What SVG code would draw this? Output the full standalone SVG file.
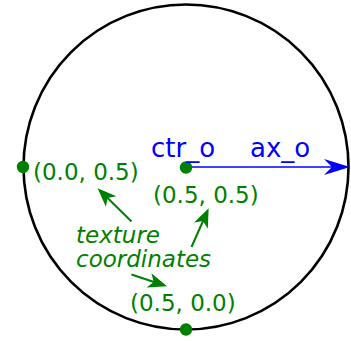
<svg xmlns="http://www.w3.org/2000/svg" width="351" height="341" viewBox="0 0 351 341">
<style>
.g{fill:#008000;font-family:"DejaVu Sans",sans-serif;font-size:23px}
.b{fill:#0000ff;font-family:"DejaVu Sans",sans-serif;font-size:26px}
.it{font-style:italic}
.ga{stroke:#008000;stroke-width:2;fill:none}
.dot{fill:#008000}
</style>
<defs>
<marker id="gh" markerUnits="userSpaceOnUse" orient="auto" markerWidth="22" markerHeight="18" refX="11" refY="9" viewBox="0 0 22 18">
<path d="M20,9 L1,1.5 L6,9 L1,16.5 Z" fill="#008000"/>
</marker>
<marker id="bh" markerUnits="userSpaceOnUse" orient="auto" markerWidth="28" markerHeight="18" refX="14" refY="9" viewBox="0 0 28 18">
<path d="M27,9 L1,1 L9,9 L1,17 Z" fill="#0000ff"/>
</marker>
</defs>
<g id="circle"><circle cx="186" cy="167" r="162.5" fill="none" stroke="#000" stroke-width="2.6"/></g>
<g id="connectors">
<line x1="186" y1="167" x2="337" y2="167" stroke="#0000ff" stroke-width="1.6" marker-end="url(#bh)"/>
<line class="ga" x1="131.5" y1="221.5" x2="104" y2="194.5" marker-end="url(#gh)"/>
<line class="ga" x1="191.5" y1="247" x2="205" y2="216.5" marker-end="url(#gh)"/>
<line class="ga" x1="131.5" y1="274.5" x2="158.5" y2="283.5" marker-end="url(#gh)"/>
</g>
<g id="ctr"><circle class="dot" cx="186" cy="167.5" r="6.2"/><text class="b" x="151" y="157">ctr_o</text></g>
<g id="ax"><text class="b" x="250" y="157">ax_o</text></g>
<g id="left"><circle class="dot" cx="23" cy="167" r="6.2"/><text class="g" x="33" y="180">(0.0, 0.5)</text></g>
<g id="center-label"><text class="g" x="153" y="203">(0.5, 0.5)</text></g>
<g id="bottom"><circle class="dot" cx="186" cy="329.5" r="6.2"/><text class="g" x="130" y="311">(0.5, 0.0)</text></g>
<g id="tex"><text class="g it" x="76" y="243">texture</text><text class="g it" x="76" y="267">coordinates</text></g>
</svg>
